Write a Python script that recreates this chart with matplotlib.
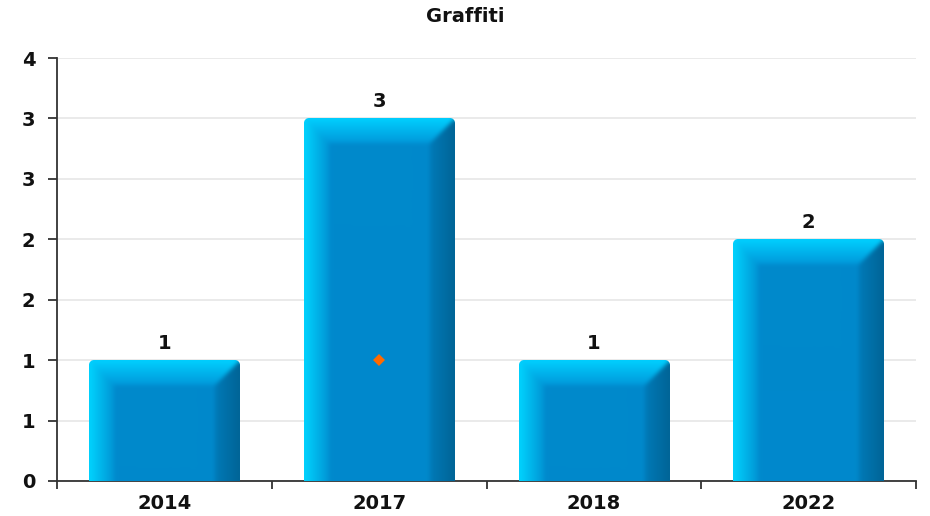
import numpy as np
import matplotlib
matplotlib.use('Agg')
import matplotlib.pyplot as plt
from matplotlib.ticker import FixedLocator

# ---- data ----
categories = ['2014', '2017', '2018', '2022']
values = [1, 3, 1, 2]
marker_values = [None, 1, None, None]   # orange point series
ytick_values = [0, 0.5, 1, 1.5, 2, 2.5, 3, 3.5]
ytick_labels = ['0', '1', '1', '2', '2', '3', '3', '4']
title = 'Graffiti'

W, H, DPI = 930, 516, 100
FS = 14
fig = plt.figure(figsize=(W / DPI, H / DPI), dpi=DPI)
left, right, top, bottom = 57, 916, 58, 481
ax = fig.add_axes([left / W, 1 - bottom / H, (right - left) / W, (bottom - top) / H])

x = np.arange(len(categories))
bw = 0.7
ax.set_xlim(-0.5, len(categories) - 0.5)
ax.set_ylim(0, 3.5)

bars = ax.bar(x, values, width=bw, color='#0089cc', zorder=2, alpha=0)

px_per_x = (right - left) / len(categories)
px_per_y = (bottom - top) / 3.5


def box_blur(a, k):
    pad = k // 2
    for axis in (0, 1):
        pw = [(0, 0)] * a.ndim
        pw[axis] = (pad, pad)
        ap = np.pad(a, pw, mode='edge')
        cs = np.cumsum(ap, axis=axis)
        zero_shape = list(cs.shape)
        zero_shape[axis] = 1
        cs = np.concatenate([np.zeros(zero_shape), cs], axis=axis)
        n = a.shape[axis]
        hi = np.take(cs, np.arange(k, k + n), axis=axis)
        lo = np.take(cs, np.arange(0, n), axis=axis)
        a = (hi - lo) / k
    return a


def bevel_image(wpx, hpx, b=25, rad=5):
    wpx = max(int(round(wpx)), 2)
    hpx = max(int(round(hpx)), 2)
    img = np.zeros((hpx, wpx, 4))
    r = np.arange(hpx)[:, None] + 0.5
    c = np.arange(wpx)[None, :] + 0.5
    dl = c * np.ones_like(r)
    dr = (wpx - c) * np.ones_like(r)
    dt = r * np.ones_like(c)
    inner = np.array([0, 137, 204]) / 255
    col = np.ones((hpx, wpx, 3)) * inner

    def lerp(a, bb, t):
        a = np.array(a) / 255
        bb = np.array(bb) / 255
        return a + (bb - a) * t[..., None]

    topm = (dt < b) & (dt <= dl) & (dt <= dr)
    leftm = (~topm) & (dl < b) & (dl <= dr)
    rightm = (~topm) & (~leftm) & (dr < b)
    t_top = np.clip(dt / b, 0, 1)
    t_left = np.clip(dl / b, 0, 1)
    t_right = np.clip(dr / b, 0, 1)
    ctop = lerp((0, 208, 255), (0, 152, 218), t_top)
    cleft = lerp((0, 212, 255), (0, 148, 212), t_left)
    cright = lerp((0, 100, 150), (0, 122, 184), t_right)
    col[topm] = ctop[topm]
    col[leftm] = cleft[leftm]
    col[rightm] = cright[rightm]
    col = box_blur(box_blur(col, 5), 5)
    alpha = np.ones((hpx, wpx))
    for cx in (rad, wpx - rad):
        cy = rad
        dist = np.sqrt((c - cx) ** 2 + (r - cy) ** 2)
        m = (r < cy) & (((c < cx) & (cx == rad)) | ((c > cx) & (cx != rad)))
        a = np.clip(rad + 0.5 - dist, 0, 1)
        alpha = np.where(m, a, alpha)
    img[..., :3] = np.clip(col, 0, 1)
    img[..., 3] = alpha
    return img


for rect in bars.patches:
    bx, by = rect.get_x(), rect.get_y()
    w, h = rect.get_width(), rect.get_height()
    img = bevel_image(w * px_per_x, h * px_per_y)
    ax.imshow(img, extent=(bx, bx + w, by, by + h), aspect='auto',
              interpolation='bilinear', zorder=3)
    ax.annotate(f'{h:g}', (bx + w / 2, by + h), xytext=(0, 8.2),
                textcoords='offset points', ha='center', va='baseline',
                fontsize=FS, fontweight='bold', color='#111111')

for xi, mv in zip(x, marker_values):
    if mv is not None:
        ax.plot(xi, mv, marker='D', color='#ff6a00', ms=6.5, mew=0, zorder=5)

ax.set_xlim(-0.5, len(categories) - 0.5)
ax.set_ylim(0, 3.5)

# grid
ax.yaxis.set_major_locator(FixedLocator(ytick_values))
ax.set_yticklabels(ytick_labels)
ax.yaxis.grid(True, color='#e8e8e8', lw=1.3, zorder=0)
ax.set_axisbelow(True)

ax.set_xticks(x)
ax.set_xticklabels(categories)
ax.set_xticks(np.arange(len(categories) + 1) - 0.5, minor=True)
ax.tick_params(axis='x', which='major', length=0, pad=9.5, labelsize=FS,
               labelcolor='#111111')
ax.tick_params(axis='x', which='minor', length=6, width=1.3, color='#333333')
ax.tick_params(axis='y', which='major', length=6.5, width=1.3, color='#333333',
               pad=9, labelsize=FS, labelcolor='#111111')
for lab in ax.get_xticklabels() + ax.get_yticklabels():
    lab.set_fontweight('bold')

for s in ('top', 'right'):
    ax.spines[s].set_visible(False)
for s in ('left', 'bottom'):
    ax.spines[s].set_color('#333333')
    ax.spines[s].set_linewidth(1.3)
    ax.spines[s].set_zorder(1)

fig.text(0.5, 1 - 16 / H, title, ha='center', va='center', fontsize=FS,
         fontweight='bold', color='#111111')

fig.savefig('out.png', dpi=DPI)
